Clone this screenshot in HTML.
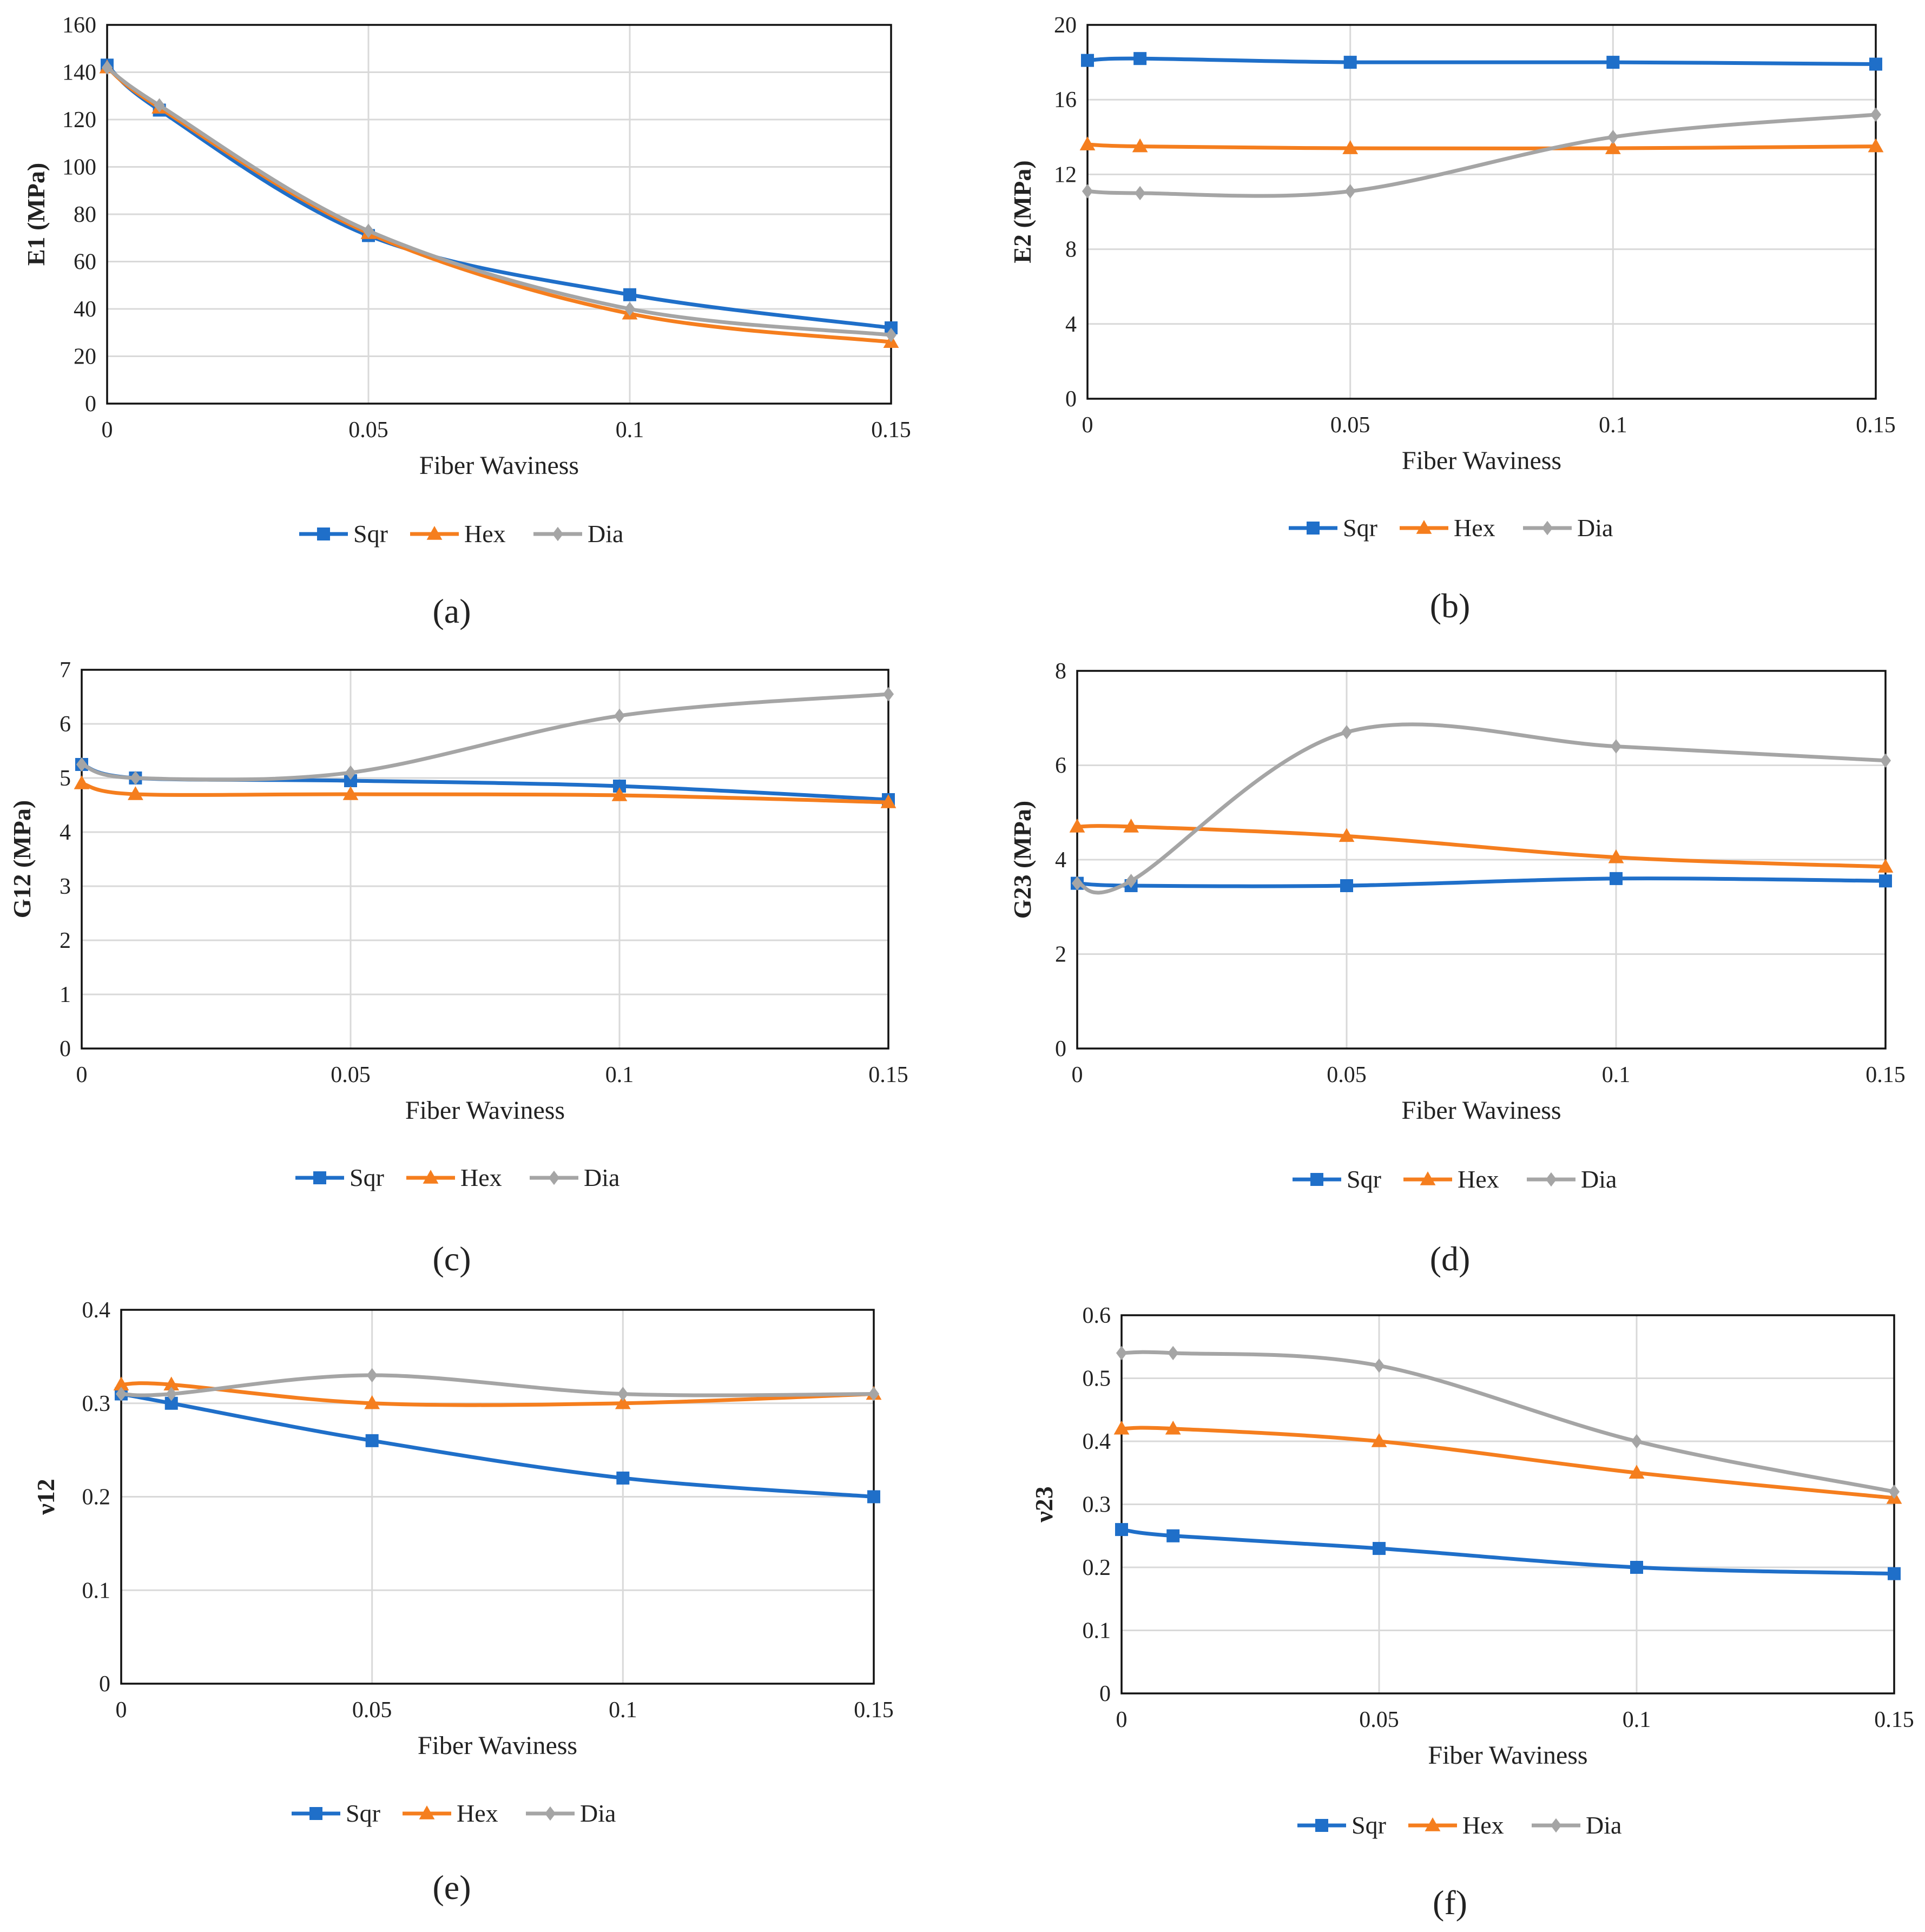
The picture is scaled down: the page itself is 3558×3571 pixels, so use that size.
<!DOCTYPE html>
<html><head><meta charset="utf-8">
<style>
html,body{margin:0;padding:0;background:#fff;}
svg{display:block;}
text{font-family:"Liberation Serif",serif;fill:#222;}
</style></head>
<body>
<svg id="fig" width="3558" height="3571" viewBox="0 0 3558 3571" xmlns="http://www.w3.org/2000/svg">
<rect width="3558" height="3571" fill="#fff"/>
</svg>
<script>
// shared x categories
const waviness = [0, 0.01, 0.05, 0.1, 0.15];
const xTicks = [0, 0.05, 0.1, 0.15];
const xTickLabels = ["0", "0.05", "0.1", "0.15"];
const seriesNames = ["Sqr", "Hex", "Dia"];

// (a) E1
const e1Sqr = [143, 124, 71, 46, 32];
const e1Hex = [142, 125, 72, 38, 26];
const e1Dia = [142, 126, 73, 40, 29];
const e1Ticks = [0, 20, 40, 60, 80, 100, 120, 140, 160];
// (b) E2
const e2Sqr = [18.1, 18.2, 18.0, 18.0, 17.9];
const e2Hex = [13.6, 13.5, 13.4, 13.4, 13.5];
const e2Dia = [11.1, 11.0, 11.1, 14.0, 15.2];
const e2Ticks = [0, 4, 8, 12, 16, 20];
// (c) G12
const g12Sqr = [5.25, 5.0, 4.95, 4.85, 4.6];
const g12Hex = [4.9, 4.7, 4.7, 4.68, 4.55];
const g12Dia = [5.25, 5.0, 5.1, 6.15, 6.55];
const g12Ticks = [0, 1, 2, 3, 4, 5, 6, 7];
// (d) G23
const g23Sqr = [3.5, 3.45, 3.45, 3.6, 3.55];
const g23Hex = [4.7, 4.7, 4.5, 4.05, 3.85];
const g23Dia = [3.5, 3.55, 6.7, 6.4, 6.1];
const g23Ticks = [0, 2, 4, 6, 8];
// (e) v12
const v12Sqr = [0.31, 0.30, 0.26, 0.22, 0.20];
const v12Hex = [0.32, 0.32, 0.30, 0.30, 0.31];
const v12Dia = [0.31, 0.31, 0.33, 0.31, 0.31];
const v12Ticks = [0, 0.1, 0.2, 0.3, 0.4];
// (f) v23
const v23Sqr = [0.26, 0.25, 0.23, 0.20, 0.19];
const v23Hex = [0.42, 0.42, 0.40, 0.35, 0.31];
const v23Dia = [0.54, 0.54, 0.52, 0.40, 0.32];
const v23Ticks = [0, 0.1, 0.2, 0.3, 0.4, 0.5, 0.6];

const colors = ["#1f6fc9", "#f57e1e", "#a5a5a5"];
const NS = "http://www.w3.org/2000/svg";
const svg = document.getElementById("fig");

function mk(tag, attrs, parent) {
  const el = document.createElementNS(NS, tag);
  for (const k in attrs) el.setAttribute(k, attrs[k]);
  (parent || svg).appendChild(el);
  return el;
}

function smoothPath(pts) {
  let d = "M" + pts[0][0] + "," + pts[0][1];
  for (let i = 0; i < pts.length - 1; i++) {
    const p0 = pts[i - 1] || pts[i], p1 = pts[i], p2 = pts[i + 1], p3 = pts[i + 2] || p2;
    const t = 1 / 6;
    const c1 = [p1[0] + (p2[0] - p0[0]) * t, p1[1] + (p2[1] - p0[1]) * t];
    const c2 = [p2[0] - (p3[0] - p1[0]) * t, p2[1] - (p3[1] - p1[1]) * t];
    d += " C" + c1[0] + "," + c1[1] + " " + c2[0] + "," + c2[1] + " " + p2[0] + "," + p2[1];
  }
  return d;
}

function marker(g, kind, x, y, color, s) {
  let el;
  if (kind === 0) el = mk("rect", {x: x - s/2, y: y - s/2, width: s, height: s, fill: color}, g);
  else if (kind === 1) el = mk("polygon", {points: `${x},${y - s*0.62} ${x + s*0.6},${y + s*0.45} ${x - s*0.6},${y + s*0.45}`, fill: color}, g);
  else el = mk("polygon", {points: `${x},${y - s*0.55} ${x + s*0.42},${y} ${x},${y + s*0.55} ${x - s*0.42},${y}`, fill: color}, g);
  return el;
}

function chart(p) {
  const g = mk("g", {});
  
  
  const xs = v => p.L + (v - 0) / 0.15 * (p.R - p.L);
  const ys = v => p.B - v / p.ymax * (p.B - p.T);
  p.ticks.forEach(t => {
    const y = ys(t);
    const gl = mk("line", {x1: p.L, x2: p.R, y1: y, y2: y, stroke: "#d9d9d9", "stroke-width": 3}, g);
    
    
    const tl = mk("text", {x: p.L - 20, y: y + 14, "font-size": 42, "text-anchor": "end"}, g);
    tl.textContent = p.tickFmt ? p.tickFmt(t) : String(t);
    
    
  });
  xTicks.forEach((t, i) => {
    const x = xs(t);
    const gl = mk("line", {x1: x, x2: x, y1: p.T, y2: p.B, stroke: "#d9d9d9", "stroke-width": 3}, g);
    
    
    const tl = mk("text", {x: x, y: p.B + 62, "font-size": 42, "text-anchor": "middle"}, g);
    tl.textContent = xTickLabels[i];
    
    
  });
  const frame = mk("rect", {x: p.L, y: p.T, width: p.R - p.L, height: p.B - p.T, fill: "none", stroke: "#111", "stroke-width": 3.5}, g);
  
  
  p.series.forEach((vals, si) => {
    const pts = waviness.map((w, i) => [xs(w), ys(vals[i])]);
    const sg = mk("g", {}, g);
    
    
    mk("path", {d: smoothPath(pts), fill: "none", stroke: colors[si], "stroke-width": 7, "stroke-linejoin": "round"}, sg);
    pts.forEach(pt => {
      const m = marker(sg, si, pt[0], pt[1], colors[si], 24);
      
      
    });
  });
  const xt = mk("text", {x: (p.L + p.R) / 2, y: p.B + 130, "font-size": 48, "text-anchor": "middle"}, g);
  xt.textContent = "Fiber Waviness";
  
  
  const cy = (p.T + p.B) / 2;
  const yt = mk("text", {x: p.yTitleX, y: cy, "font-size": 46, "font-weight": "bold", "text-anchor": "middle", transform: `rotate(-90 ${p.yTitleX} ${cy})`}, g);
  yt.textContent = p.yTitle;
  
  
  const lg = mk("g", {}, g);
  
  
  const starts = [-298, -93, 135];
  seriesNames.forEach((n, si) => {
    const x0 = p.legX + starts[si];
    const e = mk("g", {}, lg);
    
    
    mk("line", {x1: x0, x2: x0 + 90, y1: p.legY, y2: p.legY, stroke: colors[si], "stroke-width": 7}, e);
    marker(e, si, x0 + 45, p.legY, colors[si], 24);
    const t = mk("text", {x: x0 + 100, y: p.legY + 15, "font-size": 46}, e);
    t.textContent = n;
  });
  const cap = mk("text", {x: p.capX, y: p.capY + 22, "font-size": 64, "text-anchor": "middle"}, g);
  cap.textContent = "(" + p.id + ")";
  
  
}

const f1 = t => t === 0 ? "0" : String(t);
chart({id: "a", L: 198, R: 1647, T: 46, B: 746, ymax: 160, ticks: e1Ticks, series: [e1Sqr, e1Hex, e1Dia], yTitle: "E1 (MPa)", yTitleX: 82, legX: 851, legY: 987, capX: 835, capY: 1129});
chart({id: "b", L: 2010, R: 3467, T: 46, B: 737, ymax: 20, ticks: e2Ticks, series: [e2Sqr, e2Hex, e2Dia], yTitle: "E2 (MPa)", yTitleX: 1905, legX: 2680, legY: 976, capX: 2680, capY: 1119});
chart({id: "c", L: 151, R: 1642, T: 1238, B: 1938, ymax: 7, ticks: g12Ticks, series: [g12Sqr, g12Hex, g12Dia], yTitle: "G12 (MPa)", yTitleX: 56, legX: 844, legY: 2177, capX: 835, capY: 2326});
chart({id: "d", L: 1991, R: 3485, T: 1240, B: 1938, ymax: 8, ticks: g23Ticks, series: [g23Sqr, g23Hex, g23Dia], yTitle: "G23 (MPa)", yTitleX: 1905, legX: 2687, legY: 2180, capX: 2680, capY: 2326});
chart({id: "e", L: 224, R: 1615, T: 2421, B: 3112, ymax: 0.4, ticks: v12Ticks, series: [v12Sqr, v12Hex, v12Dia], yTitle: "ν12", yTitleX: 100, legX: 837, legY: 3352, capX: 835, capY: 3488, tickFmt: f1});
chart({id: "f", L: 2073, R: 3501, T: 2431, B: 3130, ymax: 0.6, ticks: v23Ticks, series: [v23Sqr, v23Hex, v23Dia], yTitle: "ν23", yTitleX: 1945, legX: 2696, legY: 3374, capX: 2680, capY: 3516, tickFmt: f1});
</script>
</body></html>
